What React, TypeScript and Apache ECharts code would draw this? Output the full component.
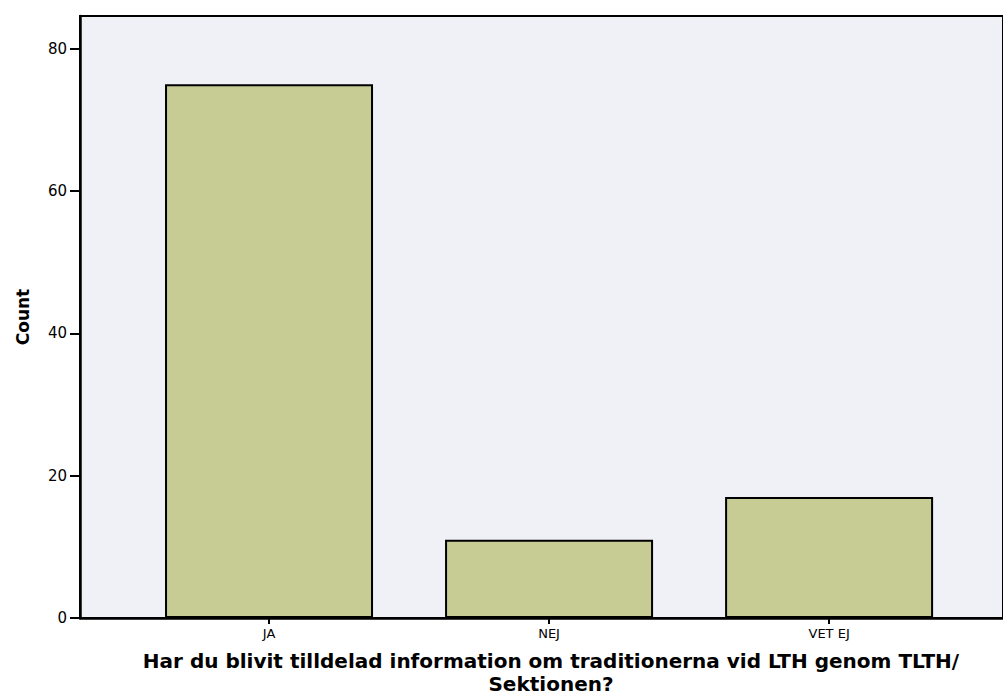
import React, { useEffect, useRef } from "react";
import * as echarts from "echarts";

const categories: string[] = ["JA", "NEJ", "VET EJ"];
const counts: number[] = [75, 11, 17];
const yTicks: number[] = [0, 20, 40, 60, 80];
const xTitleLines: string[] = [
  "Har du blivit tilldelad information om traditionerna vid LTH genom TLTH/",
  "Sektionen?",
];
const yTitle = "Count";

export default function App() {
  const ref = useRef<HTMLDivElement>(null);
  useEffect(() => {
    if (!ref.current) return;
    const chart = echarts.init(ref.current, undefined, { renderer: "svg" });
    const positions = categories.map((_, i) => i);
    const titleTops = [651, 674];
    chart.setOption({
      animation: false,
      backgroundColor: "#ffffff",
      textStyle: { fontFamily: "DejaVu Sans, Arial, sans-serif" },
      title: xTitleLines.map((t, i) => ({
        text: t,
        left: 551,
        top: titleTops[i],
        textAlign: "center",
        padding: 0,
        textStyle: {
          color: "#000",
          fontSize: 20,
          fontWeight: "bold",
          lineHeight: 20,
          fontFamily: "DejaVu Sans, Arial, sans-serif",
        },
      })),
      grid: {
        left: 80,
        right: 0,
        top: 16,
        bottom: 80,
        containLabel: false,
        outerBoundsMode: "none",
        show: true,
        backgroundColor: "#f0f1f6",
        borderColor: "#000",
        borderWidth: 2,
      },
      xAxis: {
        type: "value",
        min: -0.675,
        max: 2.621,
        splitLine: { show: false },
        axisLine: { show: true, onZero: false, lineStyle: { color: "#000", width: 2.5 } },
        axisTick: {
          show: true,
          customValues: positions,
          length: 6,
          lineStyle: { color: "#000", width: 2 },
        },
        axisLabel: {
          customValues: positions,
          formatter: (v: number) => categories[Math.round(v)] ?? "",
          color: "#000",
          fontSize: 13,
          margin: 9,
        },
      },
      yAxis: {
        type: "value",
        min: 0,
        max: 84.6,
        splitLine: { show: false },
        axisLine: { show: true, onZero: false, lineStyle: { color: "#000", width: 2.5 } },
        axisTick: {
          show: true,
          customValues: yTicks,
          length: 10,
          lineStyle: { color: "#000", width: 2 },
        },
        axisLabel: {
          customValues: yTicks,
          color: "#000",
          fontSize: 15,
          margin: 13,
        },
        name: yTitle,
        nameLocation: "middle",
        nameGap: 49,
        nameTextStyle: { color: "#000", fontSize: 17, fontWeight: "bold" },
      },
      series: [
        {
          type: "bar",
          data: counts.map((c, i) => [positions[i], c]),
          barWidth: 208,
          itemStyle: {
            color: "#c7cb94",
            borderColor: "#000",
            borderWidth: 2,
          },
        },
      ],
    });
    return () => chart.dispose();
  }, []);
  return (
    <div
      ref={ref}
      style={{ position: "fixed", left: 0, top: 0, width: 1003, height: 698 }}
    />
  );
}
